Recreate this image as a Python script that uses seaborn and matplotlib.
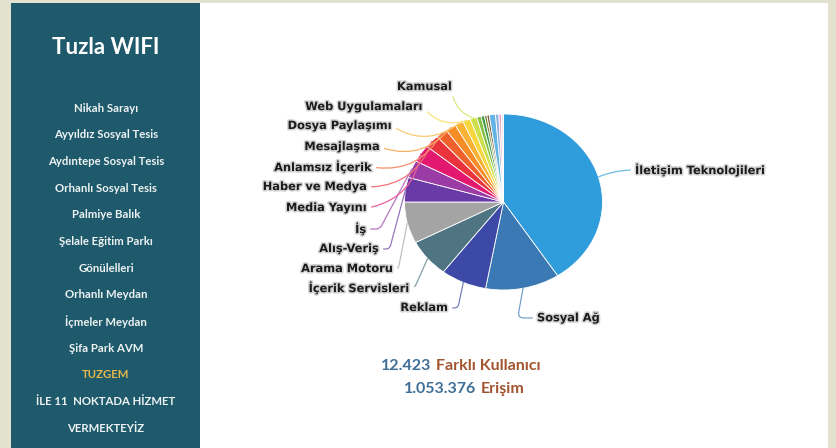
import numpy as np
import matplotlib
matplotlib.use("Agg")
import matplotlib.pyplot as plt
import matplotlib.patheffects as pe
from matplotlib.patches import Rectangle
import seaborn as sns

# ---- data -------------------------------------------------------------
# Share of traffic per content category (%), clockwise from 12 o'clock
categories = ["İletişim Teknolojileri", "Sosyal Ağ", "Reklam", "İçerik Servisleri",
              "Arama Motoru", "Alış-Veriş", "İş", "Media Yayını", "Haber ve Medya",
              "Anlamsız İçerik", "Mesajlaşma", "Dosya Paylaşımı", "Web Uygulamaları",
              "Kamusal"]
shares = [40.8, 12.1, 7.5, 7.0, 7.6, 4.5, 3.2, 3.2, 2.4, 1.9, 1.7, 1.4, 1.25, 1.1]
# remaining small categories, drawn without a caption
minor_shares = [0.7, 0.55, 0.4, 0.4, 1.0, 0.55, 0.4, 0.35]

slice_hex = ["#2f9ddb", "#3a79b4", "#3c49a6", "#4f7482", "#a4a4a4", "#6a3aa6",
             "#9b3ba6", "#e3196f", "#e9343d", "#f0612b", "#f58c25", "#f9b234",
             "#f6d63f", "#cddf4b"]
minor_hex = ["#86c043", "#3f9b47", "#7d8a3c", "#80603f", "#62b4e4", "#8fb3dc",
             "#f1a7c9", "#efe6f3"]

locations = ["Nikah Sarayı", "Ayyıldız Sosyal Tesis", "Aydıntepe Sosyal Tesis",
             "Orhanlı Sosyal Tesis", "Palmiye Balık", "Şelale Eğitim Parkı",
             "Gönülelleri", "Orhanlı Meydan", "İçmeler Meydan", "Şifa Park AVM",
             "TUZGEM", "İLE 11  NOKTADA HİZMET", "VERMEKTEYİZ"]
highlighted = "TUZGEM"
title = "Tuzla WIFI"

users_count, users_text = "12.423", "Farklı Kullanıcı"
visits_count, visits_text = "1.053.376", "Erişim"

# ---- layout (pixel positions of captions) -----------------------------
label_pos = {
    "İletişim Teknolojileri": (635, 170, "left"),
    "Sosyal Ağ": (537, 318, "left"),
    "Reklam": (448, 308, "right"),
    "İçerik Servisleri": (410, 288, "right"),
    "Arama Motoru": (393, 269, "right"),
    "Alış-Veriş": (379, 249, "right"),
    "İş": (366, 229, "right"),
    "Media Yayını": (367, 208, "right"),
    "Haber ve Medya": (367, 187, "right"),
    "Anlamsız İçerik": (372, 167, "right"),
    "Mesajlaşma": (380, 147, "right"),
    "Dosya Paylaşımı": (392, 126, "right"),
    "Web Uygulamaları": (423, 107, "right"),
    "Kamusal": (452, 87, "right"),
}
connector = {
    "İletişim Teknolojileri": "arc3,rad=0.1",
    "Sosyal Ağ": "angle,angleA=0,angleB=80,rad=6",
    "Reklam": "angle,angleA=0,angleB=78,rad=4",
    "İçerik Servisleri": "angle,angleA=0,angleB=66,rad=4",
    "Arama Motoru": "angle,angleA=0,angleB=79,rad=4",
    "Alış-Veriş": "angle,angleA=0,angleB=75,rad=4",
    "İş": "angle,angleA=0,angleB=62,rad=4",
}

sns.set_theme(style="white")
plt.rcParams["font.family"] = ["DejaVu Sans"]

W, H = 836, 448
fig = plt.figure(figsize=(W / 100, H / 100), dpi=100)
fig.patch.set_facecolor("#e3e2cf")

# background panels in pixel coordinates
bg = fig.add_axes([0, 0, 1, 1])
bg.set_xlim(0, W)
bg.set_ylim(H, 0)
bg.axis("off")
bg.add_patch(Rectangle((200, 3), 628, H, fc="white", ec="none"))
bg.add_patch(Rectangle((11, 3), 189, H, fc="#1e5a6b", ec="none"))

side_font = ["Lato", "DejaVu Sans"]
bg.text(106, 48, title, ha="center", va="center", color="white",
        fontsize=16, fontweight="bold", family=side_font)
for i, name in enumerate(locations):
    y = 108 + i * 26.7
    bg.text(106, y, name, ha="center", va="center",
            color="#e8b84a" if name == highlighted else "#eef2f3",
            fontsize=8.2, fontweight="bold", family=side_font)

# footer counters
num_color, word_color = "#3f6f97", "#a2542f"
for y, count, word, split in [(366, users_count, users_text, 432),
                              (389, visits_count, visits_text, 477)]:
    bg.text(split - 1, y, count, ha="right", va="center", color=num_color,
            fontsize=11.5, fontweight="bold", family=side_font)
    bg.text(split + 4, y, word, ha="left", va="center", color=word_color,
            fontsize=11.5, fontweight="bold", family=side_font)

# ---- pie --------------------------------------------------------------
cx, cy, rx, ry = 503.5, 202, 99, 88
pa = fig.add_axes([0, 0, 1, 1], zorder=2)
pa.patch.set_alpha(0)

all_shares = shares + minor_shares
palette = sns.color_palette(slice_hex + minor_hex)
wedges, _ = pa.pie(all_shares, colors=palette, startangle=90, counterclock=False,
                   wedgeprops=dict(edgecolor="white", linewidth=0.6))
pa.set_aspect("auto")
pa.set_xlim(-cx / rx, (W - cx) / rx)
pa.set_ylim(-(H - cy) / ry, cy / ry)
pa.axis("off")


def to_data(x, y):
    return (x - cx) / rx, (cy - y) / ry


def lighten(c, amt=0.3):
    c = np.array(c)
    return tuple(c + (1 - c) * amt)


glow = [pe.withStroke(linewidth=2.2, foreground="#d2d2d2")]
for k, name in enumerate(categories):
    w = wedges[k]
    mid = np.deg2rad((w.theta1 + w.theta2) / 2)
    x, y, ha = label_pos[name]
    cs = connector.get(name, "arc3,rad=0.35")
    pa.annotate(name, xy=(np.cos(mid), np.sin(mid)), xytext=to_data(x, y),
                ha=ha, va="center", fontsize=8.2, fontweight="bold", color="#1b1b1b",
                path_effects=glow,
                arrowprops=dict(arrowstyle="-", color=lighten(palette[k]), lw=0.9,
                                shrinkA=1, shrinkB=0, connectionstyle=cs,
                                relpos=(1, 0.5) if ha == "right" else (0, 0.5)))

fig.savefig("out.png", dpi=100)
